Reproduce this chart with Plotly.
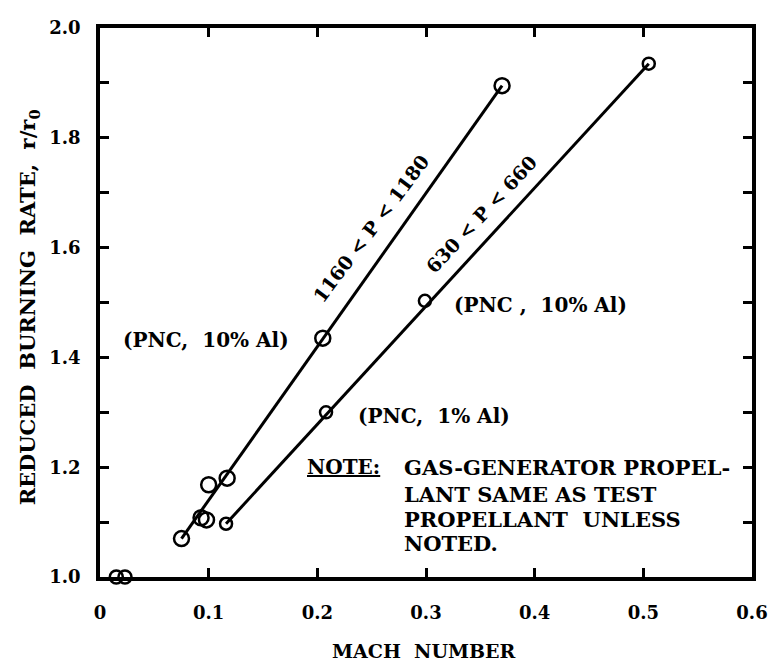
import plotly.graph_objects as go

# Data
s1_x = [0.075, 0.093, 0.098, 0.100, 0.117, 0.205, 0.370]
s1_y = [1.070, 1.108, 1.104, 1.168, 1.180, 1.435, 1.895]
s2_x = [0.116, 0.208, 0.299, 0.505]
s2_y = [1.097, 1.300, 1.503, 1.935]
s0_x = [0.015, 0.023]
s0_y = [1.000, 1.000]

fit1_x = [0.075, 0.370]
fit1_y = [1.070, 1.895]
fit2_x = [0.116, 0.505]
fit2_y = [1.097, 1.935]

x_tickvals = [0, 0.1, 0.2, 0.3, 0.4, 0.5, 0.6]
x_ticktext = ["0", "0.1", "0.2", "0.3", "0.4", "0.5", "0.6"]
y_tickvals = [1.0, 1.1, 1.2, 1.3, 1.4, 1.5, 1.6, 1.7, 1.8, 1.9, 2.0]
y_ticktext = ["1.0", "", "1.2", "", "1.4", "", "1.6", "", "1.8", "", "2.0"]

FONT = "DejaVu Serif"

fig = go.Figure()
fig.add_trace(go.Scatter(x=fit1_x, y=fit1_y, mode="lines",
                         line=dict(color="black", width=3), showlegend=False))
fig.add_trace(go.Scatter(x=fit2_x, y=fit2_y, mode="lines",
                         line=dict(color="black", width=3), showlegend=False))
fig.add_trace(go.Scatter(x=s1_x, y=s1_y, mode="markers", cliponaxis=False,
                         marker=dict(symbol="circle-open", size=15, color="black",
                                     line=dict(width=2.5, color="black")),
                         showlegend=False))
fig.add_trace(go.Scatter(x=s2_x, y=s2_y, mode="markers", cliponaxis=False,
                         marker=dict(symbol="circle-open", size=12, color="black",
                                     line=dict(width=2.5, color="black")),
                         showlegend=False))
fig.add_trace(go.Scatter(x=s0_x, y=s0_y, mode="markers", cliponaxis=False,
                         marker=dict(symbol="circle-open", size=13, color="black",
                                     line=dict(width=2.5, color="black")),
                         showlegend=False))

ann = []
def add(text, x, y, size=19, angle=0, xanchor="center", xref="x", yref="y"):
    ann.append(dict(text=text, x=x, y=y, xref=xref, yref=yref, showarrow=False,
                    textangle=angle, xanchor=xanchor, yanchor="middle",
                    font=dict(family=FONT, size=size, color="black", weight="bold")))

add("1160 &lt; P &lt; 1180", 0.249, 1.634, size=19, angle=-53)
add("630 &lt; P &lt; 660", 0.351, 1.662, size=19, angle=-47)
add("(PNC,  10% Al)", 0.0975, 1.432, size=20)
add("(PNC ,  10% Al)", 0.405, 1.495, size=20)
add("(PNC,  1% Al)", 0.307, 1.293, size=20)
add("<u>NOTE:</u>", 0.189, 1.200, size=20, xanchor="left")
add("GAS-GENERATOR PROPEL-", 0.278, 1.200, size=21, xanchor="left")
add("LANT SAME AS TEST", 0.278, 1.150, size=21, xanchor="left")
add("PROPELLANT  UNLESS", 0.278, 1.105, size=21, xanchor="left")
add("NOTED.", 0.278, 1.061, size=21, xanchor="left")
add("REDUCED  BURNING  RATE,  r/r<sub>0</sub>", -0.109, 0.491, size=21, angle=-90,
    xref="paper", yref="paper")
add("MACH  NUMBER", 0.497, -0.134, size=19, xref="paper", yref="paper")

fig.update_layout(
    width=769, height=659,
    margin=dict(l=92, r=19, t=9, b=90),
    paper_bgcolor="white", plot_bgcolor="white",
    annotations=ann,
    font=dict(family=FONT, color="black"),
)
fig.update_xaxes(range=[0, 0.6], tickvals=x_tickvals, ticktext=x_ticktext,
                 showgrid=False, zeroline=False, showline=True, linewidth=3.5,
                 linecolor="black", mirror="ticks", ticks="inside", ticklen=9,
                 tickwidth=2.5, tickcolor="black", ticklabelstandoff=17,
                 tickfont=dict(family=FONT, size=18, color="black", weight="bold"))
fig.update_yaxes(range=[1.0, 2.0], tickvals=y_tickvals, ticktext=y_ticktext,
                 showgrid=False, zeroline=False, showline=True, linewidth=3.5,
                 linecolor="black", mirror="ticks", ticks="inside", ticklen=9,
                 tickwidth=2.5, tickcolor="black", ticklabelstandoff=12,
                 tickfont=dict(family=FONT, size=18, color="black", weight="bold"))

fig.write_html("out.html")
